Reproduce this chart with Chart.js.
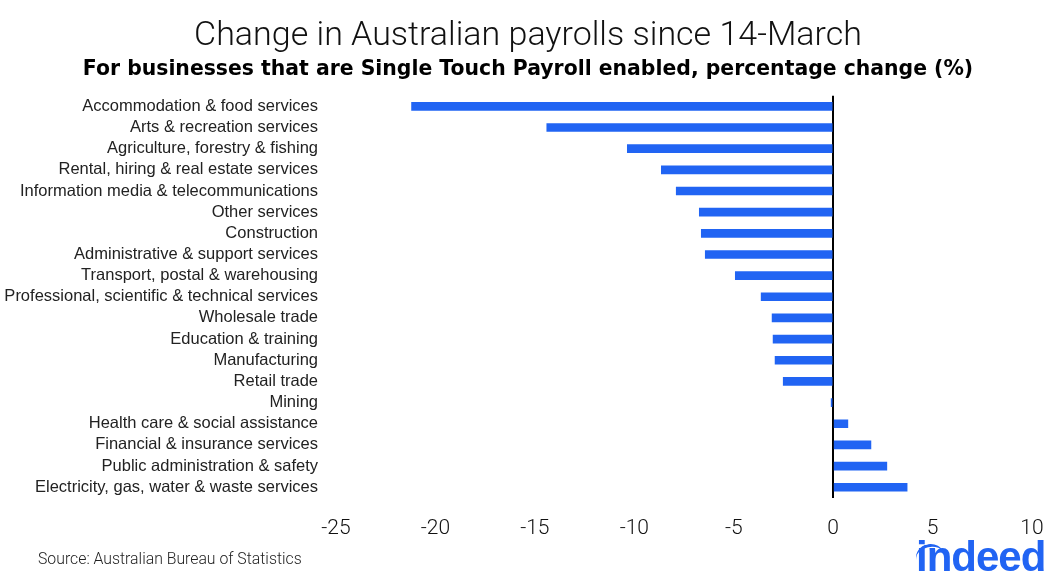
<!DOCTYPE html>
<html>
<head>
<meta charset="utf-8">
<script src="https://cdn.jsdelivr.net/npm/chart.js@4.4.1/dist/chart.umd.min.js"></script>
<style>
    html, body { margin: 0; padding: 0; background: #fff; }
    #wrap { position: relative; width: 1056px; height: 577px; }
    canvas { display: block; }
    #source {
        position: absolute; left: 38px; top: 549px;
        font: 300 15.8px Roboto, sans-serif; color: #222;
    }
    #logo {
        position: absolute; left: 916px; top: 533px;
        font: bold 42px "Liberation Sans", sans-serif; color: #2164f3;
        letter-spacing: -1px;
    }
    #arc {
        position: absolute; left: 916px; top: 544px; width: 28px; height: 22px;
        border-top: 3px solid #2164f3; border-radius: 50%; transform: rotate(-12deg);
    }
</style>
</head>
<body>
<div id="wrap">
    <canvas id="chart" width="1056" height="577"></canvas>
    <div id="source">Source: Australian Bureau of Statistics</div>
    <div id="arc"></div>
    <div id="logo">indeed</div>
</div>
<script>
const industries = [
    'Accommodation & food services',
    'Arts & recreation services',
    'Agriculture, forestry & fishing',
    'Rental, hiring & real estate services',
    'Information media & telecommunications',
    'Other services',
    'Construction',
    'Administrative & support services',
    'Transport, postal & warehousing',
    'Professional, scientific & technical services',
    'Wholesale trade',
    'Education & training',
    'Manufacturing',
    'Retail trade',
    'Mining',
    'Health care & social assistance',
    'Financial & insurance services',
    'Public administration & safety',
    'Electricity, gas, water & waste services'
];
const payrollChange = [
    -21.2, -14.4, -10.35, -8.64, -7.89, -6.73, -6.63, -6.43, -4.92,
    -3.62, -3.07, -3.02, -2.92, -2.51, -0.1, 0.74, 1.9, 2.7, 3.72
];
const xMin = -25;
const xMax = 10;
const xStep = 5;

const blue = '#2164f3';

new Chart(document.getElementById('chart').getContext('2d'), {
    type: 'bar',
    data: {
        labels: industries,
        datasets: [{
            label: 'Change since 14-March (%)',
            data: payrollChange,
            backgroundColor: blue,
            borderWidth: 0,
            barThickness: 8
        }]
    },
    options: {
        indexAxis: 'y',
        responsive: false,
        animation: false,
        layout: { padding: { left: 0, right: 0, top: 0, bottom: 18 } },
        plugins: {
            legend: { display: false },
            tooltip: { enabled: false },
            title: {
                display: true,
                text: 'Change in Australian payrolls since 14-March',
                color: '#111',
                font: { family: 'Roboto', size: 34, weight: '300' },
                padding: { top: 16, bottom: 0 }
            },
            subtitle: {
                display: true,
                text: 'For businesses that are Single Touch Payroll enabled, percentage change (%)',
                color: '#000',
                font: { family: 'DejaVu Sans', size: 20.4, weight: 'bold' },
                padding: { top: 1, bottom: 13.5 }
            }
        },
        scales: {
            x: {
                min: xMin,
                max: xMax,
                afterFit: s => { s.paddingLeft = 0; s.paddingRight = 24; },
                ticks: {
                    stepSize: xStep,
                    color: '#111',
                    padding: 18,
                    font: { family: 'Roboto', size: 21, weight: '300' }
                },
                grid: {
                    drawTicks: false,
                    lineWidth: 2,
                    color: c => (c.tick && c.tick.value === 0) ? '#000' : 'rgba(0,0,0,0)'
                },
                border: { display: false }
            },
            y: {
                afterFit: s => { s.width = 336; s.paddingTop = 0; s.paddingBottom = 0; },
                ticks: {
                    color: '#222',
                    padding: 18,
                    autoSkip: false,
                    font: { family: 'Liberation Sans', size: 16.5 }
                },
                grid: { display: false, drawTicks: false },
                border: { display: false }
            }
        }
    }
});
</script>
</body>
</html>
